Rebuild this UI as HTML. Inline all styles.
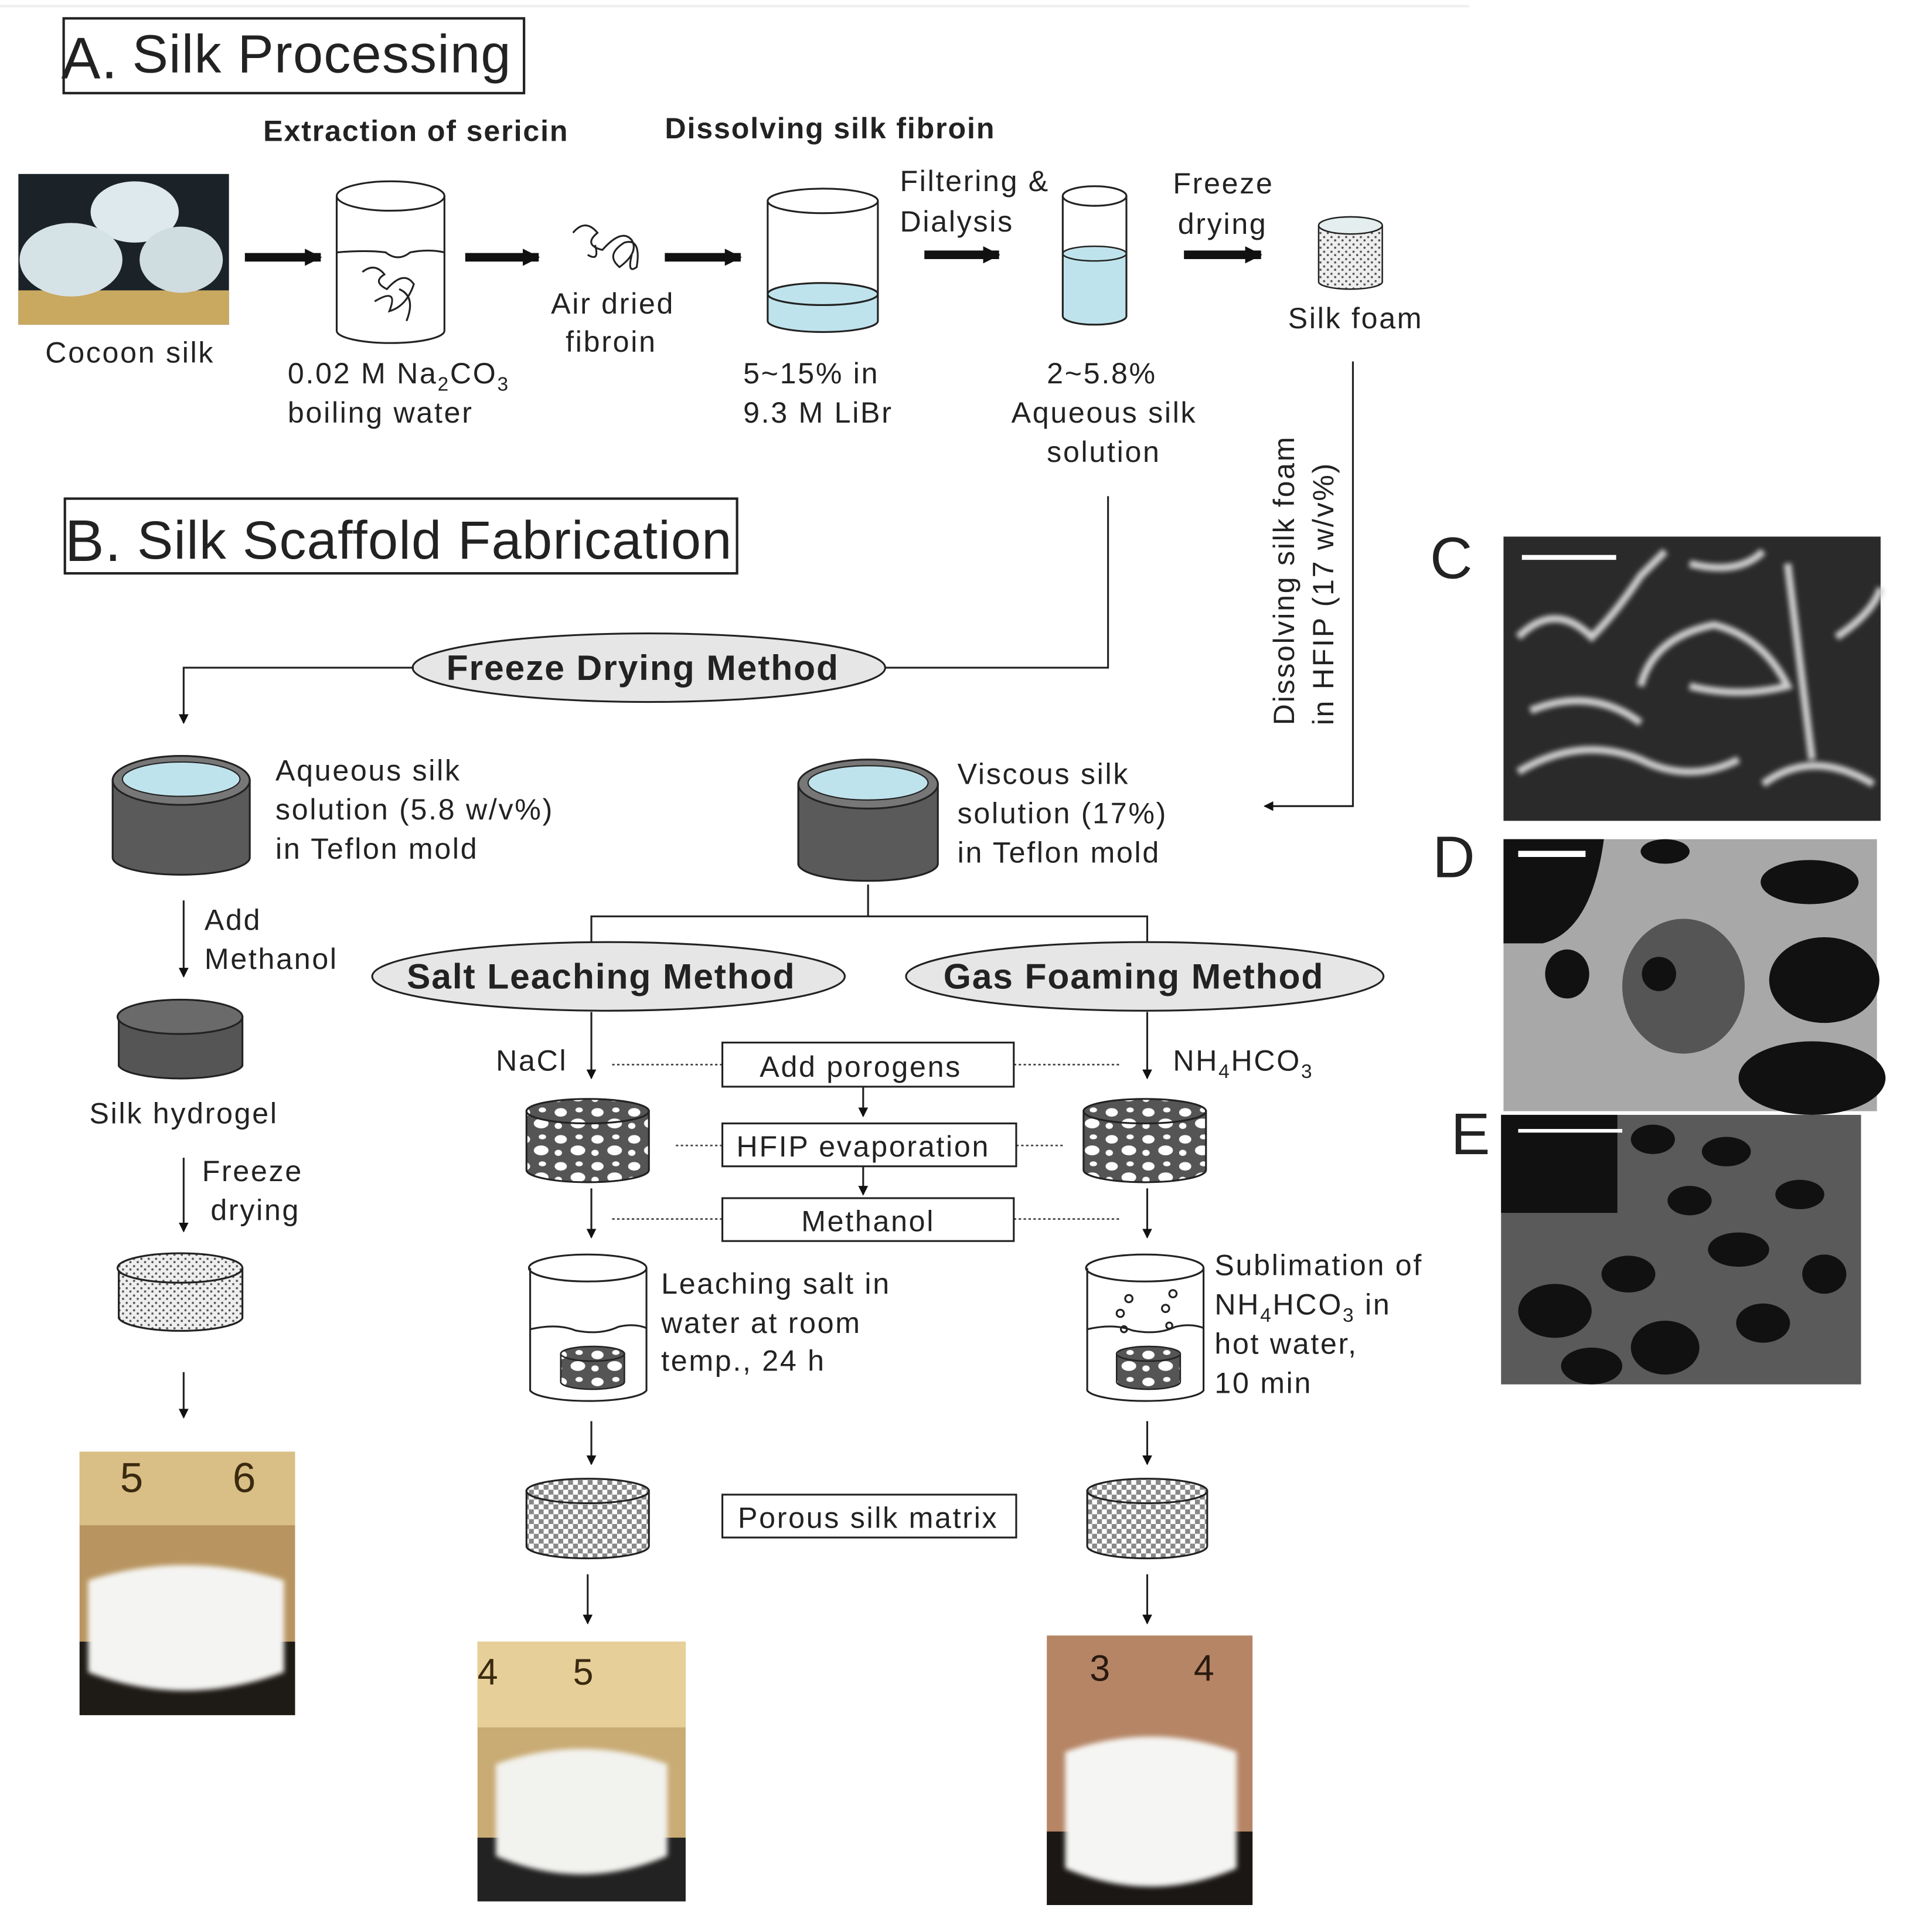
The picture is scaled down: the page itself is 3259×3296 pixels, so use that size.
<!DOCTYPE html>
<html><head><meta charset="utf-8"><style>
html,body{margin:0;padding:0;background:#fff;}
svg{display:block;}
text{font-family:"Liberation Sans",sans-serif;fill:#222;letter-spacing:1.3px;}
.b{font-weight:bold;letter-spacing:0.9px;}
.t{letter-spacing:0.6px;}
</style></head><body>
<svg width="3259" height="3296" viewBox="0 0 1560 1577" preserveAspectRatio="none" xmlns="http://www.w3.org/2000/svg">
<defs>
<marker id="ah" markerWidth="8" markerHeight="8" refX="7" refY="4" orient="auto" markerUnits="userSpaceOnUse"><path d="M0,0 L8,4 L0,8 z" fill="#111"/></marker>
<marker id="ah2" markerWidth="14" markerHeight="14" refX="13" refY="7" orient="auto" markerUnits="userSpaceOnUse"><path d="M0,0 L14,7 L0,14 z" fill="#111"/></marker>
<pattern id="dots" width="6" height="6" patternUnits="userSpaceOnUse"><rect width="6" height="6" fill="#eee"/><circle cx="1.5" cy="1.5" r="0.9" fill="#555"/><circle cx="4.5" cy="4.2" r="0.9" fill="#555"/></pattern>
<pattern id="chk" width="8" height="8" patternUnits="userSpaceOnUse"><rect width="8" height="8" fill="#fff"/><rect width="4" height="4" fill="#888"/><rect x="4" y="4" width="4" height="4" fill="#888"/></pattern>
<pattern id="por" width="30" height="22" patternUnits="userSpaceOnUse"><rect width="30" height="22" fill="#555"/><ellipse cx="8" cy="6" rx="5" ry="3.5" fill="#fff"/><ellipse cx="22" cy="15" rx="6" ry="4" fill="#fff"/><ellipse cx="23" cy="4" rx="3" ry="2" fill="#fff"/><ellipse cx="6" cy="17" rx="3" ry="2.5" fill="#fff"/></pattern>
<filter id="bl"><feGaussianBlur stdDeviation="2"/></filter>
</defs>
<line x1="0" y1="5" x2="1200" y2="5" stroke="#eee" stroke-width="2"/>
<!-- A -->
<rect x="52" y="15" width="376" height="61" fill="none" stroke="#222" stroke-width="2"/>
<text x="50" y="64" font-size="48" class="t">A.</text>
<text x="108" y="59" font-size="44" class="t">Silk Processing</text>
<text x="215" y="115" font-size="24" class="b">Extraction of sericin</text>
<text x="543" y="113" font-size="24" class="b">Dissolving  silk fibroin</text>
<!-- cocoon photo -->
<rect x="15" y="142" width="172" height="123" fill="#1b2228"/>
<rect x="15" y="237" width="172" height="28" fill="#c9a860"/>
<ellipse cx="110" cy="173" rx="36" ry="25" fill="#dde9ec"/>
<ellipse cx="58" cy="212" rx="42" ry="30" fill="#d6e3e6"/>
<ellipse cx="148" cy="212" rx="34" ry="27" fill="#d0dde0"/>
<text x="37" y="296" font-size="24">Cocoon silk</text>
<!-- arrows -->
<g stroke="#111" stroke-width="7" marker-end="url(#ah2)">
<line x1="200" y1="210" x2="262" y2="210"/><line x1="380" y1="210" x2="440" y2="210"/><line x1="543" y1="210" x2="605" y2="210"/><line x1="755" y1="208" x2="816" y2="208"/><line x1="967" y1="208" x2="1030" y2="208"/>
</g>
<!-- beaker 1 -->
<g fill="none" stroke="#222" stroke-width="1.5">
<path d="M275,160 L275,270 A44,10 0 0 0 363,270 L363,160"/><ellipse cx="319" cy="160" rx="44" ry="12"/>
<path d="M275,206 Q300,204 315,206 Q325,214 335,206 Q350,203 363,206"/>
<path d="M296,222 q10,-8 18,2 q-10,6 2,12 q14,-16 22,-4 q-6,18 -20,22 q8,-20 -12,-8 m20,-10 q14,6 6,26"/>
</g>
<text x="235" y="313" font-size="24">0.02 M Na<tspan font-size="16" dy="6">2</tspan><tspan dy="-6">CO</tspan><tspan font-size="16" dy="6">3</tspan></text>
<text x="235" y="345" font-size="24">boiling water</text>
<path d="M468,190 q10,-12 20,0 q-12,10 4,14 q16,-18 24,-8 q6,10 -10,22 q-12,-10 4,-20 q14,-4 10,20 q-8,6 -4,-10 m-30,-8 q4,14 -6,8" fill="none" stroke="#222" stroke-width="1.5"/>
<text x="450" y="256" font-size="24">Air dried</text>
<text x="462" y="287" font-size="24">fibroin</text>
<!-- beaker 2 -->
<path d="M627,240 L627,262 A45,9 0 0 0 717,262 L717,240 z" fill="#bfe3ec"/>
<ellipse cx="672" cy="240" rx="45" ry="9" fill="#bfe3ec" stroke="#222" stroke-width="1.5"/>
<g fill="none" stroke="#222" stroke-width="1.5"><path d="M627,164 L627,262 A45,9 0 0 0 717,262 L717,164"/><ellipse cx="672" cy="164" rx="45" ry="10"/></g>
<text x="607" y="313" font-size="24">5~15% in</text>
<text x="607" y="345" font-size="24">9.3 M LiBr</text>
<text x="735" y="156" font-size="24">Filtering &amp;</text>
<text x="735" y="189" font-size="24">Dialysis</text>
<!-- beaker 3 -->
<path d="M868,207 L868,258 A26,7 0 0 0 920,258 L920,207 z" fill="#bfe3ec"/>
<ellipse cx="894" cy="207" rx="26" ry="6" fill="#bfe3ec" stroke="#222" stroke-width="1.2"/>
<g fill="none" stroke="#222" stroke-width="1.5"><path d="M868,160 L868,258 A26,7 0 0 0 920,258 L920,160"/><ellipse cx="894" cy="160" rx="26" ry="8"/></g>
<text x="855" y="313" font-size="24">2~5.8%</text>
<text x="826" y="345" font-size="24">Aqueous silk</text>
<text x="855" y="377" font-size="24">solution</text>
<text x="958" y="158" font-size="24">Freeze</text>
<text x="962" y="191" font-size="24">drying</text>
<!-- silk foam -->
<path d="M1077,184 L1077,230 A26,6 0 0 0 1129,230 L1129,184" fill="url(#dots)" stroke="#222" stroke-width="1.2"/>
<ellipse cx="1103" cy="184" rx="26" ry="7" fill="#e4eeee" stroke="#222" stroke-width="1.2"/>
<text x="1052" y="268" font-size="24">Silk foam</text>
<!-- connectors top -->
<polyline points="1105,295 1105,658 1033,658" fill="none" stroke="#222" stroke-width="1.5" marker-end="url(#ah)"/>
<text transform="translate(1057,592) rotate(-90)" font-size="24">Dissolving silk foam</text>
<text transform="translate(1089,592) rotate(-90)" font-size="24">in HFIP (17 w/v%)</text>
<polyline points="905,405 905,545 722,545" fill="none" stroke="#222" stroke-width="1.5"/>
<!-- B -->
<rect x="53" y="407" width="549" height="61" fill="none" stroke="#222" stroke-width="2"/>
<text x="53" y="458" font-size="48" class="t">B.</text>
<text x="112" y="456" font-size="44" class="t">Silk Scaffold Fabrication</text>
<ellipse cx="530" cy="545" rx="193" ry="28" fill="#e6e6e6" stroke="#222" stroke-width="1.5"/>
<text x="525" y="555" font-size="29" class="b" text-anchor="middle">Freeze Drying Method</text>
<polyline points="338,545 150,545 150,590" fill="none" stroke="#222" stroke-width="1.5" marker-end="url(#ah)"/>
<!-- left column -->
<path d="M92,637 L92,700 A56,14 0 0 0 204,700 L204,637 z" fill="#5a5a5a" stroke="#222" stroke-width="1.5"/>
<ellipse cx="148" cy="637" rx="56" ry="20" fill="#777" stroke="#222" stroke-width="1.5"/>
<ellipse cx="148" cy="636" rx="48" ry="14" fill="#bfe3ec" stroke="#222" stroke-width="1"/>
<text x="225" y="637" font-size="24">Aqueous silk</text>
<text x="225" y="669" font-size="24">solution (5.8 w/v%)</text>
<text x="225" y="701" font-size="24">in Teflon mold</text>
<line x1="150" y1="735" x2="150" y2="797" stroke="#222" stroke-width="1.5" marker-end="url(#ah)"/>
<text x="167" y="759" font-size="24">Add</text>
<text x="167" y="791" font-size="24">Methanol</text>
<path d="M97,830 L97,870 A51,12 0 0 0 198,870 L198,830 z" fill="#555" stroke="#222" stroke-width="1.5"/>
<ellipse cx="147" cy="830" rx="51" ry="14" fill="#6a6a6a" stroke="#222" stroke-width="1.5"/>
<text x="73" y="917" font-size="24">Silk hydrogel</text>
<line x1="150" y1="945" x2="150" y2="1005" stroke="#222" stroke-width="1.5" marker-end="url(#ah)"/>
<text x="165" y="964" font-size="24">Freeze</text>
<text x="172" y="996" font-size="24">drying</text>
<path d="M97,1035 L97,1076 A51,12 0 0 0 198,1076 L198,1035" fill="url(#dots)" stroke="#222" stroke-width="1.5"/>
<ellipse cx="147" cy="1035" rx="51" ry="12" fill="url(#dots)" stroke="#222" stroke-width="1.5"/>
<line x1="150" y1="1120" x2="150" y2="1157" stroke="#222" stroke-width="1.5" marker-end="url(#ah)"/>
<!-- photo left -->
<rect x="65" y="1185" width="176" height="215" fill="#b89560"/>
<rect x="65" y="1185" width="176" height="60" fill="#d9bf85"/>
<text x="98" y="1218" font-size="34" style="fill:#3a2a10">5</text><text x="190" y="1218" font-size="34" style="fill:#3a2a10">6</text>
<rect x="65" y="1340" width="176" height="60" fill="#1e1a16"/>
<path d="M72,1290 Q150,1265 232,1290 L232,1365 Q150,1395 72,1365 z" fill="#f4f4f2" filter="url(#bl)"/>
<!-- middle mold -->
<path d="M652,640 L652,705 A57,14 0 0 0 766,705 L766,640 z" fill="#5a5a5a" stroke="#222" stroke-width="1.5"/>
<ellipse cx="709" cy="640" rx="57" ry="20" fill="#777" stroke="#222" stroke-width="1.5"/>
<ellipse cx="709" cy="639" rx="49" ry="14" fill="#bfe3ec" stroke="#222" stroke-width="1"/>
<text x="782" y="640" font-size="24">Viscous silk</text>
<text x="782" y="672" font-size="24">solution (17%)</text>
<text x="782" y="704" font-size="24">in Teflon mold</text>
<polyline points="483,775 483,748 937,748 937,775" fill="none" stroke="#222" stroke-width="1.5"/>
<line x1="709" y1="722" x2="709" y2="748" stroke="#222" stroke-width="1.5"/>
<ellipse cx="497" cy="797" rx="193" ry="28" fill="#e6e6e6" stroke="#222" stroke-width="1.5"/>
<text x="491" y="807" font-size="29" class="b" text-anchor="middle">Salt Leaching Method</text>
<ellipse cx="935" cy="797" rx="195" ry="28" fill="#e6e6e6" stroke="#222" stroke-width="1.5"/>
<text x="926" y="807" font-size="29" class="b" text-anchor="middle">Gas Foaming Method</text>
<g stroke="#222" stroke-width="1.5" marker-end="url(#ah)">
<line x1="483" y1="826" x2="483" y2="880"/><line x1="937" y1="826" x2="937" y2="880"/>
<line x1="705" y1="887" x2="705" y2="911"/><line x1="705" y1="952" x2="705" y2="975"/>
<line x1="483" y1="970" x2="483" y2="1010"/><line x1="937" y1="970" x2="937" y2="1010"/>
<line x1="483" y1="1160" x2="483" y2="1195"/><line x1="937" y1="1160" x2="937" y2="1195"/>
<line x1="480" y1="1285" x2="480" y2="1325"/><line x1="937" y1="1285" x2="937" y2="1325"/>
</g>
<text x="405" y="874" font-size="24">NaCl</text>
<text x="958" y="874" font-size="24">NH<tspan font-size="16" dy="6">4</tspan><tspan dy="-6">HCO</tspan><tspan font-size="16" dy="6">3</tspan></text>
<g stroke="#444" stroke-width="1.3" stroke-dasharray="2,2">
<line x1="500" y1="869" x2="590" y2="869"/><line x1="828" y1="869" x2="915" y2="869"/>
<line x1="552" y1="935" x2="590" y2="935"/><line x1="830" y1="935" x2="868" y2="935"/>
<line x1="500" y1="995" x2="590" y2="995"/><line x1="828" y1="995" x2="915" y2="995"/>
</g>
<g fill="#fff" stroke="#222" stroke-width="1.5">
<rect x="590" y="851" width="238" height="36"/><rect x="590" y="917" width="240" height="35"/><rect x="590" y="978" width="238" height="35"/><rect x="590" y="1220" width="240" height="35"/>
</g>
<text x="703" y="879" font-size="24" text-anchor="middle">Add porogens</text>
<text x="705" y="944" font-size="24" text-anchor="middle">HFIP evaporation</text>
<text x="709" y="1005" font-size="24" text-anchor="middle">Methanol</text>
<text x="709" y="1247" font-size="24" text-anchor="middle">Porous silk matrix</text>
<!-- porogen cylinders -->
<g stroke="#222" stroke-width="1.5">
<path d="M430,907 L430,955 A50,10 0 0 0 530,955 L530,907 z" fill="url(#por)"/><ellipse cx="480" cy="907" rx="50" ry="10" fill="url(#por)"/>
<path d="M885,907 L885,955 A50,10 0 0 0 985,955 L985,907 z" fill="url(#por)"/><ellipse cx="935" cy="907" rx="50" ry="10" fill="url(#por)"/>
</g>
<!-- leaching beakers -->
<g fill="none" stroke="#222" stroke-width="1.5">
<path d="M433,1035 L433,1135 A48,10 0 0 0 528,1135 L528,1035"/><ellipse cx="480" cy="1035" rx="48" ry="11"/>
<path d="M433,1085 Q455,1080 470,1086 Q490,1090 505,1083 Q518,1080 528,1084"/>
<path d="M888,1035 L888,1135 A48,10 0 0 0 983,1135 L983,1035"/><ellipse cx="935" cy="1035" rx="48" ry="11"/>
<path d="M888,1085 Q910,1080 925,1086 Q945,1090 960,1083 Q973,1080 983,1084"/>
<circle cx="915" cy="1072" r="3"/><circle cx="922" cy="1060" r="3"/><circle cx="952" cy="1068" r="3"/><circle cx="958" cy="1056" r="3"/><circle cx="918" cy="1085" r="2.5"/><circle cx="955" cy="1082" r="2.5"/>
</g>
<g stroke="#222" stroke-width="1.2">
<path d="M458,1105 L458,1128 A26,6 0 0 0 510,1128 L510,1105 z" fill="url(#por)"/><ellipse cx="484" cy="1105" rx="26" ry="6" fill="url(#por)"/>
<path d="M912,1105 L912,1128 A26,6 0 0 0 964,1128 L964,1105 z" fill="url(#por)"/><ellipse cx="938" cy="1105" rx="26" ry="6" fill="url(#por)"/>
</g>
<text x="540" y="1056" font-size="24">Leaching salt in</text>
<text x="540" y="1088" font-size="24">water at room</text>
<text x="540" y="1119" font-size="24">temp., 24 h</text>
<text x="992" y="1041" font-size="24">Sublimation of</text>
<text x="992" y="1073" font-size="24">NH<tspan font-size="16" dy="6">4</tspan><tspan dy="-6">HCO</tspan><tspan font-size="16" dy="6">3</tspan><tspan dy="-6"> in</tspan></text>
<text x="992" y="1105" font-size="24">hot water,</text>
<text x="992" y="1137" font-size="24">10 min</text>
<!-- checker cylinders -->
<g stroke="#222" stroke-width="1.5">
<path d="M430,1217 L430,1262 A50,10 0 0 0 530,1262 L530,1217 z" fill="url(#chk)"/><ellipse cx="480" cy="1217" rx="50" ry="10" fill="url(#chk)"/>
<path d="M888,1217 L888,1262 A49,10 0 0 0 986,1262 L986,1217 z" fill="url(#chk)"/><ellipse cx="937" cy="1217" rx="49" ry="10" fill="url(#chk)"/>
</g>
<!-- bottom photos -->
<rect x="390" y="1340" width="170" height="212" fill="#c9ab74"/>
<rect x="390" y="1340" width="170" height="70" fill="#e6cf98"/>
<text x="390" y="1375" font-size="30" style="fill:#3a2a10">4</text><text x="468" y="1375" font-size="30" style="fill:#3a2a10">5</text>
<rect x="390" y="1500" width="170" height="52" fill="#222"/>
<path d="M405,1440 Q475,1415 545,1440 L545,1515 Q475,1545 405,1515 z" fill="#f2f2ef" filter="url(#bl)"/>
<rect x="855" y="1335" width="168" height="220" fill="#b58565"/>
<text x="890" y="1372" font-size="30" style="fill:#2a1a10">3</text><text x="975" y="1372" font-size="30" style="fill:#2a1a10">4</text>
<rect x="855" y="1495" width="168" height="60" fill="#1a1715"/>
<path d="M870,1430 Q940,1405 1010,1430 L1010,1525 Q940,1555 870,1525 z" fill="#f5f5f3" filter="url(#bl)"/>
<!-- SEM panels -->
<text x="1168" y="472" font-size="48" class="t">C</text>
<text x="1170" y="716" font-size="48" class="t">D</text>
<text x="1185" y="942" font-size="48" class="t">E</text>
<rect x="1228" y="438" width="308" height="232" fill="#2a2a2a"/>
<g fill="none" stroke="#cfcfcf" stroke-width="6" filter="url(#bl)">
<path d="M1240,520 Q1270,490 1300,520 Q1320,500 1340,470 L1360,450"/>
<path d="M1340,560 Q1350,520 1400,510 Q1440,520 1460,560 Q1420,570 1380,560"/>
<path d="M1460,460 Q1470,540 1480,620 M1500,520 Q1530,500 1536,480"/>
<path d="M1240,630 Q1290,600 1340,620 Q1380,640 1420,620 M1440,640 Q1480,610 1530,640"/>
<path d="M1250,580 Q1300,560 1340,590 M1380,460 Q1420,470 1440,450"/>
</g>
<line x1="1243" y1="455" x2="1320" y2="455" stroke="#fff" stroke-width="4"/>
<rect x="1228" y="685" width="305" height="222" fill="#a8a8a8"/>
<g fill="#111">
<path d="M1228,685 L1310,685 Q1300,760 1260,770 L1228,770 z"/>
<ellipse cx="1280" cy="795" rx="18" ry="20"/>
<ellipse cx="1375" cy="805" rx="50" ry="55" fill="#555"/>
<ellipse cx="1355" cy="795" rx="14" ry="14"/>
<ellipse cx="1478" cy="720" rx="40" ry="18"/>
<ellipse cx="1490" cy="800" rx="45" ry="35"/>
<ellipse cx="1480" cy="880" rx="60" ry="30"/>
<ellipse cx="1360" cy="695" rx="20" ry="10"/>
</g>
<line x1="1240" y1="697" x2="1295" y2="697" stroke="#fff" stroke-width="5"/>
<rect x="1226" y="910" width="294" height="220" fill="#5a5a5a"/>
<g fill="#111">
<rect x="1226" y="910" width="95" height="80"/>
<ellipse cx="1270" cy="1070" rx="30" ry="22"/><ellipse cx="1330" cy="1040" rx="22" ry="15"/><ellipse cx="1380" cy="980" rx="18" ry="12"/>
<ellipse cx="1420" cy="1020" rx="25" ry="14"/><ellipse cx="1470" cy="975" rx="20" ry="12"/><ellipse cx="1490" cy="1040" rx="18" ry="16"/>
<ellipse cx="1360" cy="1100" rx="28" ry="22"/><ellipse cx="1440" cy="1080" rx="22" ry="16"/><ellipse cx="1300" cy="1115" rx="25" ry="15"/>
<ellipse cx="1410" cy="940" rx="20" ry="12"/><ellipse cx="1350" cy="930" rx="18" ry="12"/>
</g>
<line x1="1240" y1="923" x2="1325" y2="923" stroke="#fff" stroke-width="3"/>
</svg>
</body></html>
